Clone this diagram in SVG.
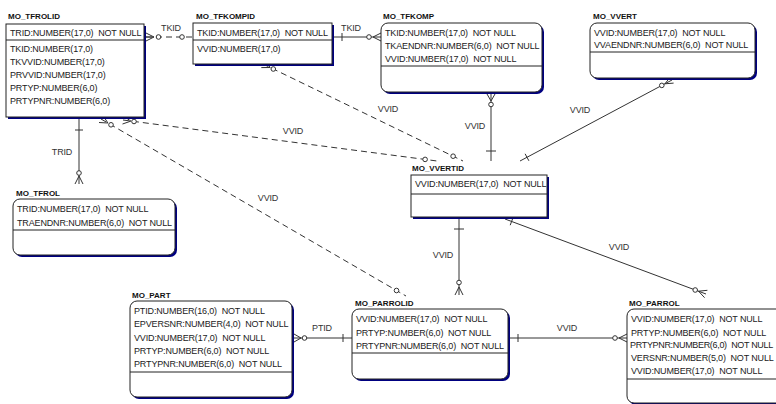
<svg xmlns="http://www.w3.org/2000/svg" width="776" height="404" viewBox="0 0 776 404">
<style>
.bg{fill:#fff}
.box{fill:#fff;stroke:#222;stroke-width:1}
.sh{fill:#000080}
.dv{stroke:#222;stroke-width:1}
.t{font-family:"Liberation Sans",Arial,sans-serif;font-size:9px;fill:#222;white-space:pre;letter-spacing:-0.15px}
.tn{letter-spacing:-0.32px}
.ti{font-family:"Liberation Sans",Arial,sans-serif;font-size:8px;font-weight:bold;fill:#111}
.lb{font-family:"Liberation Sans",Arial,sans-serif;font-size:9px;fill:#333;text-anchor:middle;letter-spacing:-0.15px}
.ln{stroke:#333;stroke-width:1;fill:none}
.da{stroke-dasharray:6 4}
.ci{fill:#fff;stroke:#333;stroke-width:1}
</style>
<rect class="bg" x="0" y="0" width="776" height="404"/>
<g id="connectors">
  <path class="ln da" d="M146,37 H193"/>
  <path class="ln" d="M146,33 L154,37 L146,41 M146,37 H154"/>
  <circle class="ci" cx="158.5" cy="37" r="2.3"/>
  <circle class="ci" cx="182" cy="37" r="2.3"/>
  <text class="lb" x="171" y="31">TKID</text>
  <path class="ln" d="M334,37 H381 M342,33 V41 M381,33 L373,37 L381,41"/>
  <circle class="ci" cx="369" cy="37" r="2.3"/>
  <text class="lb" x="351" y="31">TKID</text>
  <path class="ln" d="M491,94 V161 M486,151 H496 M487,94 L491,101 L495,94"/>
  <circle class="ci" cx="491" cy="104.5" r="2.3"/>
  <text class="lb" x="475" y="129">VVID</text>
  <path class="ln" d="M672,80 L520,161 M525.1,153.8 L528.9,160.8 M673.6,83.1 L664.9,83.8 L670.4,76.9"/>
  <circle class="ci" cx="661.8" cy="85.4" r="2.3"/>
  <text class="lb" x="580" y="113">VVID</text>
  <path class="ln" d="M505,219 L706,294 M513,217.7 L510.2,225.2 M704.6,297.7 L698.5,291.2 L707.4,290.3"/>
  <circle class="ci" cx="695.2" cy="290" r="2.3"/>
  <text class="lb" x="619" y="250">VVID</text>
  <path class="ln" d="M459,219 V295 M454,229 H464 M455,295 L459,287 L463,295"/>
  <circle class="ci" cx="459" cy="282.5" r="2.3"/>
  <text class="lb" x="443" y="258">VVID</text>
  <path class="ln" d="M294,338 H352 M343,334 V342 M294,334 L301,338 L294,342"/>
  <circle class="ci" cx="304.5" cy="338" r="2.3"/>
  <text class="lb" x="322" y="331">PTID</text>
  <path class="ln" d="M510,338 H627 M518,334 V342 M627,334 L619,338 L627,342"/>
  <circle class="ci" cx="615" cy="338" r="2.3"/>
  <text class="lb" x="567" y="331">VVID</text>
  <path class="ln" d="M79,119 V184 M75,130 H83 M75,184 L79,176 L83,184"/>
  <circle class="ci" cx="79" cy="173" r="2.3"/>
  <text class="lb" x="62" y="155">TRID</text>
  <path class="ln da" d="M123,120 L437,161"/>
  <path class="ln" d="M122.5,124 L130.9,121.1 L123.5,116"/>
  <circle class="ci" cx="134" cy="121.5" r="2.3"/>
  <circle class="ci" cx="425.1" cy="159.4" r="2.3"/>
  <text class="lb" x="293" y="134">VVID</text>
  <path class="ln da" d="M101,119 L406,296"/>
  <path class="ln" d="M99,122.5 L107.9,123 L103,115.5"/>
  <circle class="ci" cx="111" cy="124.8" r="2.3"/>
  <circle class="ci" cx="396.5" cy="290.5" r="2.3"/>
  <text class="lb" x="268" y="201">VVID</text>
  <path class="ln da" d="M263,64 L463,161"/>
  <path class="ln" d="M261.3,67.6 L270.2,67.5 L264.7,60.4"/>
  <circle class="ci" cx="273.3" cy="69" r="2.3"/>
  <circle class="ci" cx="453.1" cy="156.2" r="2.3"/>
  <text class="lb" x="388" y="112">VVID</text>
</g>
<g id="MO_TFROLID">
  <text class="ti" x="8" y="19">MO_TFROLID</text>
  <rect class="sh" x="8" y="26" width="138" height="93"/>
  <rect class="box" x="6" y="24" width="138" height="93"/>
  <line class="dv" x1="6" y1="40" x2="144" y2="40"/>
  <text class="t" x="10" y="36">TRID:NUMBER(17,0)  NOT NULL</text>
  <text class="t" x="10" y="52">TKID:NUMBER(17,0)</text>
  <text class="t" x="10" y="65">TKVVID:NUMBER(17,0)</text>
  <text class="t" x="10" y="78">PRVVID:NUMBER(17,0)</text>
  <text class="t" x="10" y="91">PRTYP:NUMBER(6,0)</text>
  <text class="t" x="10" y="104">PRTYPNR:NUMBER(6,0)</text>
</g>
<g id="MO_TFKOMPID">
  <text class="ti" x="196" y="19">MO_TFKOMPID</text>
  <rect class="sh" x="195" y="25" width="139" height="41"/>
  <rect class="box" x="193" y="23" width="139" height="41"/>
  <line class="dv" x1="193" y1="40" x2="332" y2="40"/>
  <text class="t" x="197" y="36">TKID:NUMBER(17,0)  NOT NULL</text>
  <text class="t" x="197" y="52">VVID:NUMBER(17,0)</text>
</g>
<g id="MO_TFKOMP">
  <text class="ti" x="383" y="19">MO_TFKOMP</text>
  <rect class="sh" x="383" y="25" width="161" height="69" rx="7"/>
  <rect class="box" x="381" y="23" width="161" height="69" rx="7"/>
  <line class="dv" x1="381" y1="66" x2="542" y2="66"/>
  <text class="t" x="385" y="36">TKID:NUMBER(17,0)  NOT NULL</text>
  <text class="t" x="385" y="49">TKAENDNR:NUMBER(6,0)  NOT NULL</text>
  <text class="t" x="385" y="62">VVID:NUMBER(17,0)  NOT NULL</text>
</g>
<g id="MO_VVERT">
  <text class="ti" x="593" y="19">MO_VVERT</text>
  <rect class="sh" x="592" y="25" width="165" height="55" rx="7"/>
  <rect class="box" x="590" y="23" width="165" height="55" rx="7"/>
  <line class="dv" x1="590" y1="52" x2="755" y2="52"/>
  <text class="t" x="594" y="36">VVID:NUMBER(17,0)  NOT NULL</text>
  <text class="t" x="594" y="48">VVAENDNR:NUMBER(6,0)  NOT NULL</text>
</g>
<g id="MO_VVERTID">
  <text class="ti" x="412" y="171">MO_VVERTID</text>
  <rect class="sh" x="413" y="177" width="136" height="42"/>
  <rect class="box" x="411" y="175" width="136" height="42"/>
  <line class="dv" x1="411" y1="194" x2="547" y2="194"/>
  <text class="t" x="415" y="187">VVID:NUMBER(17,0)  NOT NULL</text>
</g>
<g id="MO_TFROL">
  <text class="ti" x="16" y="196">MO_TFROL</text>
  <rect class="sh" x="15" y="201" width="162" height="56" rx="7"/>
  <rect class="box" x="13" y="199" width="162" height="56" rx="7"/>
  <line class="dv" x1="13" y1="230" x2="175" y2="230"/>
  <text class="t" x="17" y="212">TRID:NUMBER(17,0)  NOT NULL</text>
  <text class="t" x="17" y="226">TRAENDNR:NUMBER(6,0)  NOT NULL</text>
</g>
<g id="MO_PART">
  <text class="ti" x="132" y="298">MO_PART</text>
  <rect class="sh" x="132" y="303" width="162" height="96" rx="7"/>
  <rect class="box" x="130" y="301" width="162" height="96" rx="7"/>
  <line class="dv" x1="130" y1="372" x2="292" y2="372"/>
  <text class="t" x="134" y="314">PTID:NUMBER(16,0)  NOT NULL</text>
  <text class="t" x="134" y="327">EPVERSNR:NUMBER(4,0)  NOT NULL</text>
  <text class="t" x="134" y="341">VVID:NUMBER(17,0)  NOT NULL</text>
  <text class="t" x="134" y="354">PRTYP:NUMBER(6,0)  NOT NULL</text>
  <text class="t" x="134" y="367">PRTYPNR:NUMBER(6,0)  NOT NULL</text>
</g>
<g id="MO_PARROLID">
  <text class="ti" x="355" y="306">MO_PARROLID</text>
  <rect class="sh" x="354" y="311" width="156" height="70" rx="7"/>
  <rect class="box" x="352" y="309" width="156" height="70" rx="7"/>
  <line class="dv" x1="352" y1="353" x2="508" y2="353"/>
  <text class="t" x="356" y="322">VVID:NUMBER(17,0)  NOT NULL</text>
  <text class="t" x="356" y="336">PRTYP:NUMBER(6,0)  NOT NULL</text>
  <text class="t" x="356" y="349">PRTYPNR:NUMBER(6,0)  NOT NULL</text>
</g>
<g id="MO_PARROL">
  <text class="ti" x="629" y="306">MO_PARROL</text>
  <rect class="sh" x="629" y="311" width="160" height="94" rx="7"/>
  <rect class="box" x="627" y="309" width="160" height="94" rx="7"/>
  <line class="dv" x1="627" y1="379" x2="787" y2="379"/>
  <text class="t" x="631" y="322">VVID:NUMBER(17,0)  NOT NULL</text>
  <text class="t" x="631" y="336">PRTYP:NUMBER(6,0)  NOT NULL</text>
  <text class="t tn" x="630" y="348">PRTYPNR:NUMBER(6,0)  NOT NULL</text>
  <text class="t" x="631" y="361">VERSNR:NUMBER(5,0)  NOT NULL</text>
  <text class="t" x="631" y="374">VVID:NUMBER(17,0)  NOT NULL</text>
</g>
</svg>
